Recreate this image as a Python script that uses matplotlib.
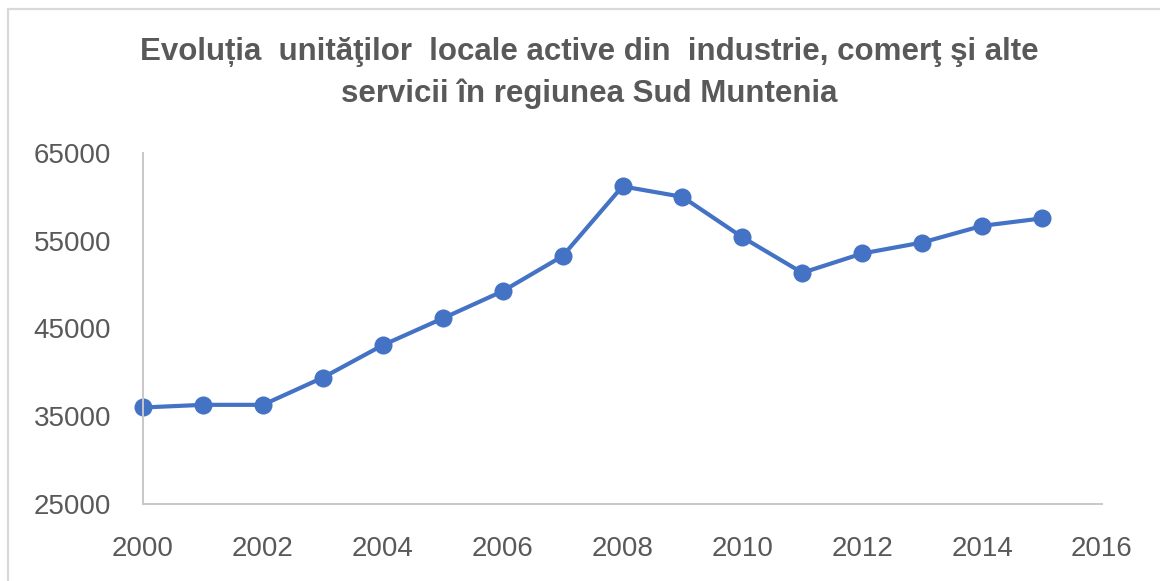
import matplotlib
matplotlib.use("Agg")
import matplotlib.pyplot as plt
from matplotlib.patches import Rectangle

years = [2000, 2001, 2002, 2003, 2004, 2005, 2006, 2007,
         2008, 2009, 2010, 2011, 2012, 2013, 2014, 2015]
units = [36000, 36300, 36300, 39400, 43100, 46150, 49250, 53250,
         61200, 60000, 55400, 51350, 53550, 54800, 56700, 57550]
y_ticks = [25000, 35000, 45000, 55000, 65000]
x_ticks = [2000, 2002, 2004, 2006, 2008, 2010, 2012, 2014, 2016]
title = ("Evoluția  unităţilor  locale active din  industrie, comerţ şi alte\n"
         "servicii în regiunea Sud Muntenia")

W, H = 1160, 581
fig = plt.figure(figsize=(W / 100, H / 100), dpi=100)
fig.patch.set_facecolor("white")

# outer chart border (top and left visible)
fig.patches.append(Rectangle((8 / W, -0.1), 1.2, 1 - 8 / H + 0.1 - 1 / H,
                             transform=fig.transFigure, fill=False,
                             edgecolor="#d9d9d9", linewidth=1.6))

ax = fig.add_axes([143 / W, (H - 504) / H, (1102 - 143) / W, (504 - 153) / H])
ax.plot(years, units, color="#4472C4", linewidth=3.0, marker="o",
        markersize=13, markeredgewidth=0, clip_on=False)

ax.set_xlim(2000, 2016)
ax.set_ylim(25000, 65000)
ax.set_xticks(x_ticks)
ax.set_yticks(y_ticks)
ax.set_xticklabels([str(t) for t in x_ticks])
ax.set_yticklabels([str(t) for t in y_ticks])

for s in ["top", "right"]:
    ax.spines[s].set_visible(False)
for s in ["left", "bottom"]:
    ax.spines[s].set_color("#c8c8c8")
    ax.spines[s].set_linewidth(1.4)

tick_font = ["Liberation Sans", "DejaVu Sans"]
ax.tick_params(axis="both", length=0, labelsize=20, labelcolor="#595959")
ax.tick_params(axis="y", pad=23)
ax.tick_params(axis="x", pad=23)
for lab in ax.get_xticklabels() + ax.get_yticklabels():
    lab.set_family(tick_font)
    lab.set_verticalalignment("center_baseline") if lab in ax.get_yticklabels() else None

fig.text(589 / W, 1 - 73 / H, title, ha="center", va="center",
         fontsize=22.5, fontweight="bold", color="#595959",
         family=["Liberation Sans", "DejaVu Sans"],
         linespacing=1.45, multialignment="center")

fig.savefig("out.png", dpi=100, facecolor="white")
